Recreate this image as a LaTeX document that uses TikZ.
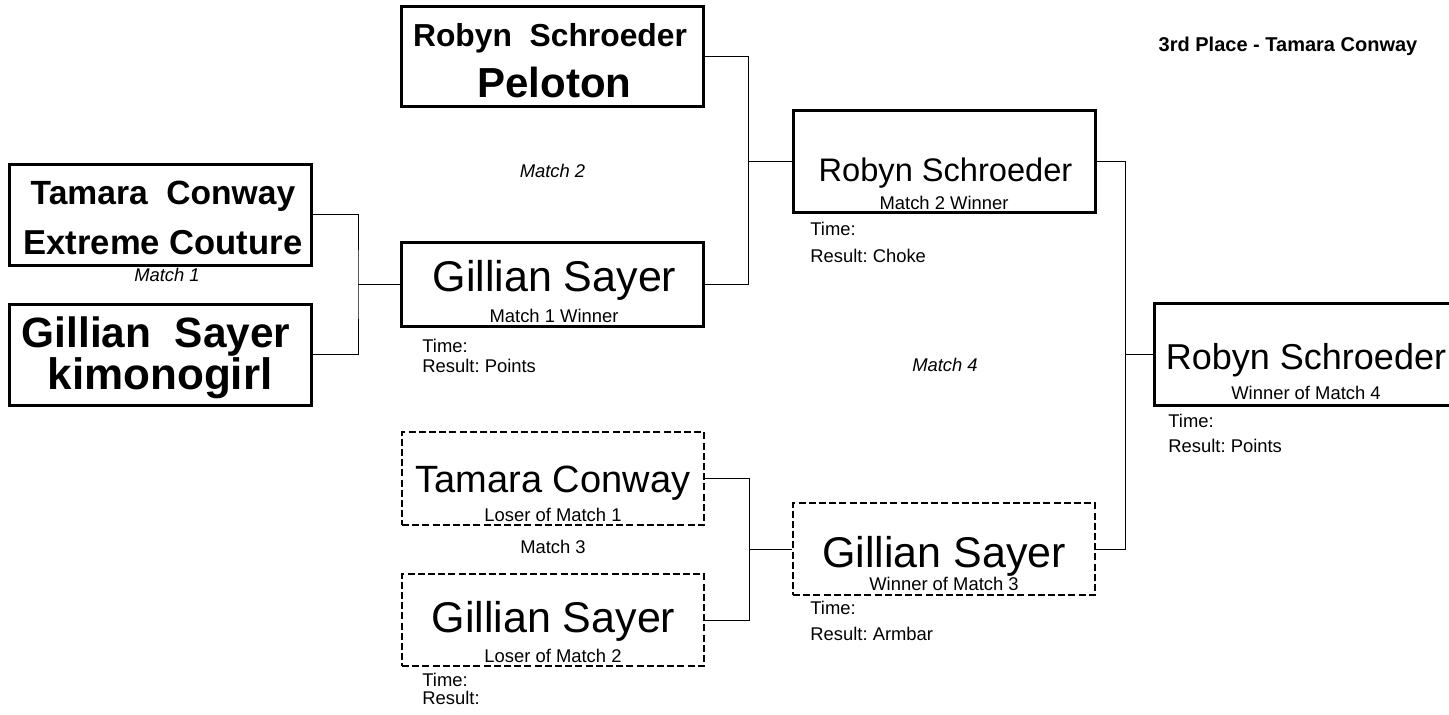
\documentclass[tikz,border=0pt]{standalone}
\usepackage{fontspec}
\setmainfont{Liberation Sans}
\usetikzlibrary{positioning}
\frenchspacing
\tikzset{
    seedbox/.style = {rectangle, draw=black, line width=1.5pt, minimum width=151pt, inner sep=0pt},
    loserbox/.style = {rectangle, draw=black, line width=1pt, dash pattern=on 3.5pt off 1.6pt, minimum width=151pt, inner sep=0pt},
    bracket/.style = {draw=black, line width=0.5pt},
    bname/.style = {anchor=base, inner sep=0pt, font=\bfseries\fontsize{#1}{#1}\selectfont},
    pname/.style = {anchor=base, inner sep=0pt, font=\fontsize{#1}{#1}\selectfont},
    small/.style = {anchor=base, inner sep=0pt, font=\fontsize{9.2}{10}\selectfont},
    result/.style = {anchor=north west, inner sep=0pt, align=left, font=\fontsize{9.2}{#1}\selectfont},
    matchlbl/.style = {small, font=\itshape\fontsize{9.2}{10}\selectfont}
}
\begin{document}
\begin{tikzpicture}[x=0.5pt, y=-0.5pt]
  \useasboundingbox (0,0) rectangle (1449,715);
  \clip (0,0) rectangle (1449,715);

  % boxes
  \node[seedbox, minimum height=50.5pt] (tc) at (160.5,215) {};
  \node[seedbox, minimum height=50.5pt] (gs) at (160.5,355) {};
  \node[seedbox, minimum height=50pt] (rs) at (552.5,56.5) {};
  \node[seedbox, minimum height=42pt] (w1) at (552.5,284.5) {};
  \node[seedbox, minimum height=51pt] (w2) at (944.5,161.5) {};
  \node[seedbox, minimum height=51pt] (w4) at (1305.5,354.5) {};
  \node[loserbox, minimum height=46.5pt] (l1) at (553,478.5) {};
  \node[loserbox, minimum height=46pt] (l2) at (553,620) {};
  \node[loserbox, minimum height=46pt] (w3) at (944,549) {};

  \coordinate (j1) at (358,284.5);
  \coordinate (j2) at (748,161.5);
  \coordinate (j3) at (749,549);
  \coordinate (j4) at (1125,354.5);

  \draw[bracket] (tc.east) -| (j1) |- (gs.east);
  \draw[bracket] (j1) -- (w1.west);
  \draw[bracket] (rs.east) -| (j2) |- (w1.east);
  \draw[bracket] (j2) -- (w2.west);
  \draw[bracket] (l1.east) -| (j3) |- (l2.east);
  \draw[bracket] (j3) -- (w3.west);
  \draw[bracket] (w2.east) -| (j4) |- (w3.east);
  \draw[bracket] (j4) -- (w4.west);

  % texts
  \node[bname=16.8] at (163,205) {Tamara~~Conway};
  \node[bname=17.3] at (163,255) {Extreme Couture};
  \node[matchlbl] at (167,282) {Match 1};
  \node[bname=21.2] at (156,348) {Gillian~~Sayer};
  \node[bname=22] at (160,390) {kimonogirl};

  \node[bname=15.9] at (550,47) {Robyn~~Schroeder};
  \node[bname=21] at (554.5,98) {Peloton};
  \node[matchlbl] at (552.5,178) {Match 2};

  \node[pname=21.5] at (554.5,292) {Gillian Sayer};
  \node[small] at (554,323) {Match 1 Winner};
  \node[result=10] at (422,339) {Time:\\Result: Points};

  \node[pname=16.3] at (945.5,182) {Robyn Schroeder};
  \node[small] at (944,210) {Match 2 Winner};
  \node[result=13.3] at (810,222) {Time:\\Result: Choke};

  \node[matchlbl] at (945,372) {Match 4};

  \node[pname=18] at (1306,370) {Robyn Schroeder};
  \node[small] at (1306,400) {Winner of Match 4};
  \node[result=12.5] at (1168,414) {Time:\\Result: Points};

  \node[pname=19] at (553,492) {Tamara Conway};
  \node[small] at (553,521) {Loser of Match 1};
  \node[small] at (553,553) {Match 3};

  \node[pname=21.5] at (553.5,632) {Gillian Sayer};
  \node[small] at (553,662) {Loser of Match 2};
  \node[result=9] at (422,673) {Time:\\Result:};

  \node[pname=21.5] at (944,567) {Gillian Sayer};
  \node[small] at (944,590) {Winner of Match 3};
  \node[result=13] at (810,601) {Time:\\Result: Armbar};

  \node[bname=10] at (1288,52) {3rd Place - Tamara Conway};
\end{tikzpicture}
\end{document}
